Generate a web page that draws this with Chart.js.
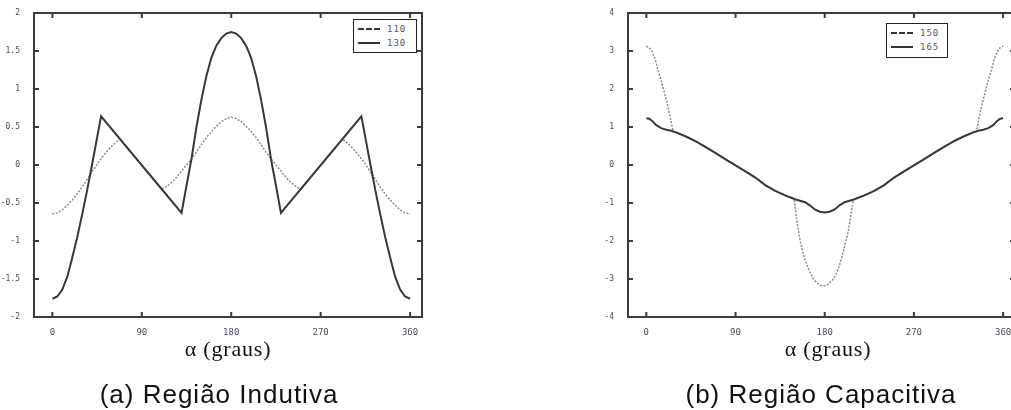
<!DOCTYPE html>
<html>
<head>
<meta charset="utf-8">
<script src="https://cdn.jsdelivr.net/npm/chart.js@4/dist/chart.umd.min.js"></script>
<style>
    html, body { margin: 0; padding: 0; background: #fff; }
    body { width: 1011px; height: 410px; overflow: hidden; position: relative; }
    .box { position: absolute; top: 0; height: 345px; }
    .axis-title { position: absolute; font-family: "Liberation Serif", serif; font-size: 22px; letter-spacing: 0.8px; line-height: 22px; color: #111; white-space: nowrap; transform: translateX(-50%); }
    .caption { position: absolute; font-family: "Liberation Sans", Arial, sans-serif; font-size: 26px; letter-spacing: 1px; line-height: 26px; color: #111; white-space: nowrap; transform: translateX(-50%); }
    .legend { position: absolute; border: 1.5px solid #222; background: #fff; box-sizing: border-box; }
    .legend .row { position: absolute; left: 0; width: 100%; height: 10px; }
    .legend .sw { position: absolute; top: 4px; width: 22px; height: 0; border-top: 2px solid #333; }
    .legend .sw.dash { border-top-style: dashed; }
    .legend .lb { position: absolute; top: 0; font-family: "DejaVu Sans Mono", monospace; font-size: 9px; line-height: 10px; color: #556; letter-spacing: 1px; }
</style>
</head>
<body>

<div class="box" style="left:0; width:440px;"><canvas id="chartA"></canvas></div>
<div class="box" style="left:588px; width:445px;"><canvas id="chartB"></canvas></div>

<div class="axis-title" style="left:228px; top:338px;">α (graus)</div>
<div class="axis-title" style="left:828px; top:338px;">α (graus)</div>
<div class="caption" style="left:219px; top:381px;">(a) Região Indutiva</div>
<div class="caption" style="left:821px; top:381px;">(b) Região Capacitiva</div>

<div class="legend" id="legendA" style="left:353px; top:19px; width:64px; height:34px;"></div>
<div class="legend" id="legendB" style="left:886px; top:23px; width:62px; height:35px;"></div>

<script>
// shared axis ticks (degrees)
var xTicks = [0, 90, 180, 270, 360];
var yTicksA = [-2, -1.5, -1, -0.5, 0, 0.5, 1, 1.5, 2];
var yTicksB = [-4, -3, -2, -1, 0, 1, 2, 3, 4];

// (a) Regiao Indutiva
var labelsA = ["110", "130"];
var angA110 = [0, 5, 10, 15, 20, 25, 30, 35, 40, 45, 50, 55, 60, 65, 68,
    110, 115, 120, 125, 130, 135, 140, 145, 150, 155, 160, 165, 170, 175, 180,
    185, 190, 195, 200, 205, 210, 215, 220, 225, 230, 235, 240, 245, 250,
    292, 295, 300, 305, 310, 315, 320, 325, 330, 335, 340, 345, 350, 355, 360];
var valA110 = [-0.645, -0.63, -0.59, -0.53, -0.46, -0.38, -0.29, -0.19, -0.09, 0.01, 0.10, 0.18, 0.25, 0.31, 0.34,
    -0.32, -0.28, -0.23, -0.16, -0.08, 0.00, 0.08, 0.17, 0.27, 0.36, 0.44, 0.51, 0.57, 0.61, 0.63,
    0.61, 0.57, 0.51, 0.44, 0.36, 0.27, 0.17, 0.08, 0.00, -0.08, -0.16, -0.23, -0.28, -0.32,
    0.34, 0.31, 0.25, 0.18, 0.10, 0.01, -0.09, -0.19, -0.29, -0.38, -0.46, -0.53, -0.59, -0.63, -0.645];
var angA130 = [0, 5, 10, 15, 20, 25, 30, 35, 40, 45, 49,
    130, 135, 140, 145, 150, 155, 160, 165, 170, 175, 180,
    185, 190, 195, 200, 205, 210, 215, 220, 225, 230,
    311, 315, 320, 325, 330, 335, 340, 345, 350, 355, 360];
var valA130 = [-1.76, -1.73, -1.64, -1.47, -1.22, -0.95, -0.65, -0.33, 0.01, 0.36, 0.64,
    -0.63, -0.27, 0.08, 0.50, 0.86, 1.17, 1.41, 1.57, 1.67, 1.73, 1.75,
    1.73, 1.67, 1.57, 1.41, 1.17, 0.86, 0.50, 0.08, -0.27, -0.63,
    0.64, 0.36, 0.01, -0.33, -0.65, -0.95, -1.22, -1.47, -1.64, -1.73, -1.76];

// (b) Regiao Capacitiva
var labelsB = ["150", "165"];
var angB150 = [0, 3, 6, 9, 12, 15, 18, 21, 24, 27, 30, 40, 50, 60, 70, 80, 90, 100, 110, 120, 130, 140, 149,
    152, 156, 160, 164, 168, 172, 176, 180, 184, 188, 192, 196, 200, 204, 208, 209,
    220, 230, 240, 250, 260, 270, 280, 290, 300, 310, 320, 330, 333, 336, 339, 342, 345, 348, 351, 354, 357, 360];
var valB150 = [3.13, 3.09, 2.98, 2.78, 2.48, 2.22, 1.93, 1.63, 1.27, 0.88, 0.86, 0.75, 0.62, 0.47, 0.31, 0.15, -0.01, -0.17, -0.33, -0.53, -0.68, -0.80, -0.89,
    -1.50, -2.10, -2.48, -2.76, -2.98, -3.10, -3.17, -3.18, -3.13, -3.02, -2.85, -2.55, -2.15, -1.71, -1.05, -0.91,
    -0.80, -0.68, -0.53, -0.33, -0.17, -0.01, 0.15, 0.31, 0.47, 0.62, 0.75, 0.86, 0.88, 1.27, 1.63, 1.93, 2.22, 2.48, 2.78, 2.98, 3.09, 3.13];
var angB165 = [0, 3, 6, 10, 15, 20, 25, 30, 40, 50, 60, 70, 80, 90, 100, 110, 120, 130, 140, 150,
    155, 160, 165, 170, 175, 180, 185, 190, 195, 200, 205, 210,
    220, 230, 240, 250, 260, 270, 280, 290, 300, 310, 320, 330, 335, 340, 345, 350, 354, 357, 360];
var valB165 = [1.23, 1.22, 1.16, 1.05, 0.97, 0.93, 0.90, 0.86, 0.75, 0.62, 0.47, 0.31, 0.15, -0.01, -0.17, -0.33, -0.53, -0.68, -0.80, -0.90,
    -0.94, -0.98, -1.06, -1.17, -1.23, -1.25, -1.23, -1.17, -1.06, -0.98, -0.94, -0.90,
    -0.80, -0.68, -0.53, -0.33, -0.17, -0.01, 0.15, 0.31, 0.47, 0.62, 0.75, 0.86, 0.90, 0.93, 0.97, 1.05, 1.16, 1.22, 1.23];

var xTickFont = {family: "DejaVu Sans Mono", size: 9};
var yTickFont = {family: "DejaVu Sans Mono", size: 8};
var tickColor = "#4a4a5a";

function points(xs, ys) {
    return xs.map(function (x, i) { return {x: x, y: ys[i]}; });
}

// box around the plot with small inward ticks, drawn from the scales
var framePlugin = {
    id: "frame",
    afterDraw: function (chart) {
        var ctx = chart.ctx, a = chart.chartArea;
        var xs = chart.scales.x, ys = chart.scales.y;
        ctx.save();
        ctx.strokeStyle = "#3c3c3c";
        ctx.lineWidth = 2;
        ctx.beginPath();
        xs.ticks.forEach(function (t) {
            var px = xs.getPixelForValue(t.value);
            ctx.moveTo(px, a.bottom); ctx.lineTo(px, a.bottom - 5);
            ctx.moveTo(px, a.top); ctx.lineTo(px, a.top + 5);
        });
        ys.ticks.forEach(function (t) {
            var py = ys.getPixelForValue(t.value);
            ctx.moveTo(a.left, py); ctx.lineTo(a.left + 5, py);
            ctx.moveTo(a.right, py); ctx.lineTo(a.right - 5, py);
        });
        ctx.stroke();
        ctx.strokeRect(a.left, a.top, a.right - a.left, a.bottom - a.top);
        ctx.restore();
    }
};

function makeChart(id, labels, dotted, solid, yTicks, yMin, yMax, yWidth, rightPad) {
    return new Chart(id, {
        type: "scatter",
        data: {
            datasets: [{
                    label: labels[0],
                    data: dotted,
                    showLine: true,
                    borderColor: "#8a8a8a",
                    borderWidth: 1.5,
                    borderDash: [2, 1.5],
                    pointRadius: 0,
                    order: 1
                }, {
                    label: labels[1],
                    data: solid,
                    showLine: true,
                    borderColor: "#383838",
                    borderWidth: 2,
                    pointRadius: 0,
                    order: 0
                }]
        },
        options: {
            responsive: true,
            maintainAspectRatio: false,
            animation: false,
            layout: {padding: {top: 13, left: 0, right: rightPad, bottom: 8}},
            plugins: {legend: {display: false}, tooltip: {enabled: false}},
            scales: {
                x: {
                    type: "linear",
                    min: -18.5,
                    max: 372,
                    grid: {display: false},
                    border: {display: false},
                    afterBuildTicks: function (axis) {
                        axis.ticks = xTicks.map(function (v) { return {value: v}; });
                    },
                    afterFit: function (axis) { axis.height = 20; },
                    ticks: {font: xTickFont, color: tickColor, padding: 2, maxRotation: 0,
                        callback: function (v) { return String(v); }}
                },
                y: {
                    type: "linear",
                    min: yMin,
                    max: yMax,
                    grid: {display: false},
                    border: {display: false},
                    afterBuildTicks: function (axis) {
                        axis.ticks = yTicks.map(function (v) { return {value: v}; });
                    },
                    afterFit: function (axis) { axis.width = yWidth; },
                    ticks: {font: yTickFont, color: tickColor, padding: 6,
                        callback: function (v) { return String(v); }}
                }
            }
        },
        plugins: [framePlugin]
    });
}

function makeLegend(id, labels) {
    var box = document.getElementById(id);
    labels.forEach(function (lab, i) {
        var row = document.createElement("div");
        row.className = "row";
        row.style.top = (4 + i * 14) + "px";
        row.innerHTML = '<div class="sw' + (i === 0 ? ' dash' : '') + '" style="left:4px"></div>' +
                '<div class="lb" style="left:33px">' + lab + '</div>';
        box.appendChild(row);
    });
}

makeChart("chartA", labelsA, points(angA110, valA110), points(angA130, valA130), yTicksA, -2, 2, 34, 18);
makeChart("chartB", labelsB, points(angB150, valB150), points(angB165, valB165), yTicksB, -4, 4, 40, 18);
makeLegend("legendA", labelsA);
makeLegend("legendB", labelsB);
</script>
</body>
</html>
